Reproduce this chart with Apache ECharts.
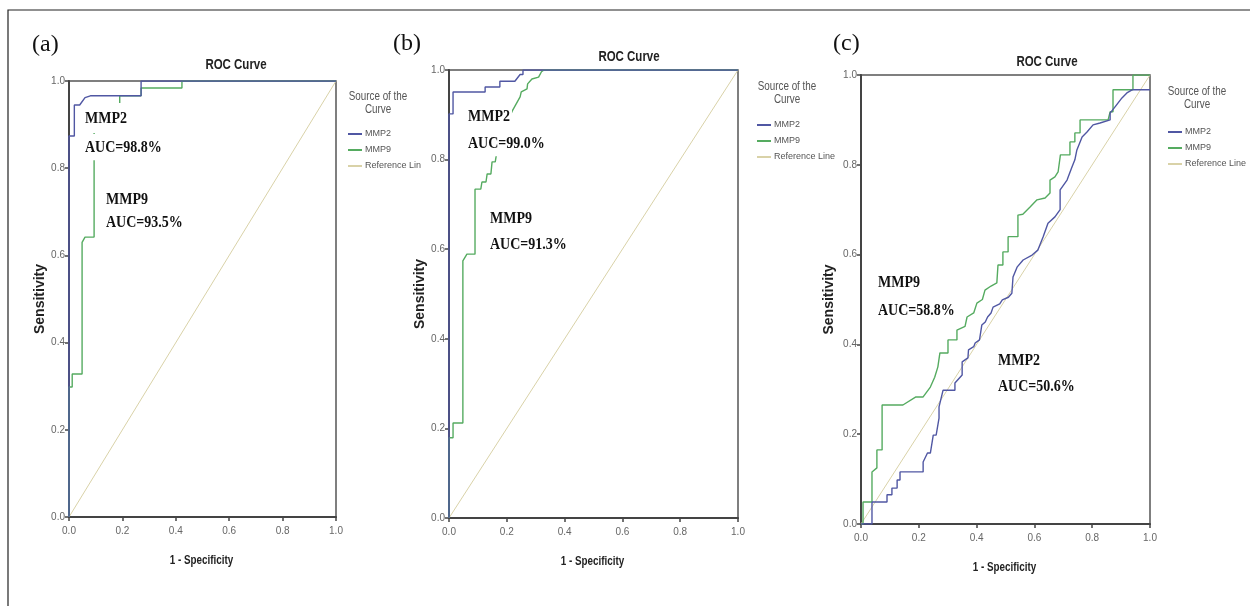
<!DOCTYPE html>
<html>
<head>
<meta charset="utf-8">
<title>ROC Curve</title>
<script src="https://cdn.jsdelivr.net/npm/echarts/dist/echarts.min.js"></script>
<style>
    html, body { margin: 0; padding: 0; background: #fff; }
    #main { width: 1250px; height: 606px; }
</style>
</head>
<body>
<div id="main"></div>
<script>
// axis ticks shared by all three panels
var tickValues = [0, 0.2, 0.4, 0.6, 0.8, 1.0];
var seriesNames = ['MMP2', 'MMP9', 'Reference Line'];
var referenceLine = [[0, 0], [1, 1]];

// (a) [1 - specificity, sensitivity]
var mmp2A = [[0, 0], [0, 0.874], [0.02, 0.874], [0.02, 0.945], [0.04, 0.945], [0.06, 0.962],
    [0.08, 0.966], [0.27, 0.966], [0.27, 1], [1, 1]];
var mmp9A = [[0, 0], [0, 0.298], [0.012, 0.298], [0.012, 0.328], [0.049, 0.328], [0.049, 0.63],
    [0.06, 0.642], [0.094, 0.642], [0.094, 0.83], [0.094, 0.9], [0.15, 0.9], [0.15, 0.94],
    [0.19, 0.94], [0.19, 0.966], [0.27, 0.966], [0.27, 0.984], [0.423, 0.984], [0.423, 1], [1, 1]];

// (b)
var mmp2B = [[0, 0], [0, 0.902], [0.014, 0.902], [0.014, 0.951], [0.125, 0.951], [0.125, 0.962],
    [0.176, 0.962], [0.176, 0.975], [0.228, 0.975], [0.246, 0.99], [0.256, 0.99], [0.256, 1], [1, 1]];
var mmp9B = [[0, 0], [0, 0.179], [0.014, 0.179], [0.014, 0.212], [0.048, 0.212], [0.048, 0.574],
    [0.062, 0.589], [0.09, 0.589], [0.09, 0.734], [0.11, 0.734], [0.114, 0.75], [0.128, 0.75],
    [0.132, 0.768], [0.145, 0.768], [0.149, 0.795], [0.16, 0.795], [0.166, 0.819], [0.18, 0.85],
    [0.2, 0.88], [0.22, 0.91], [0.246, 0.94], [0.25, 0.951], [0.27, 0.958], [0.272, 0.969],
    [0.287, 0.98], [0.31, 0.984], [0.32, 0.996], [0.329, 1], [1, 1]];

// (c)
var mmp2C = [[0, 0], [0.038, 0], [0.038, 0.049], [0.09, 0.049], [0.09, 0.065], [0.107, 0.065],
    [0.107, 0.08], [0.125, 0.08], [0.125, 0.098], [0.135, 0.098], [0.135, 0.116], [0.215, 0.116],
    [0.215, 0.138], [0.23, 0.158], [0.24, 0.158], [0.25, 0.198], [0.26, 0.198], [0.27, 0.236],
    [0.27, 0.261], [0.284, 0.298], [0.325, 0.298], [0.325, 0.314], [0.35, 0.332], [0.35, 0.361],
    [0.37, 0.37], [0.372, 0.388], [0.39, 0.395], [0.395, 0.403], [0.41, 0.41], [0.418, 0.443],
    [0.43, 0.45], [0.438, 0.461], [0.45, 0.47], [0.457, 0.483], [0.48, 0.49], [0.489, 0.499],
    [0.51, 0.505], [0.522, 0.514], [0.526, 0.55], [0.54, 0.572], [0.561, 0.588], [0.592, 0.599],
    [0.612, 0.61], [0.63, 0.639], [0.647, 0.67], [0.671, 0.684], [0.689, 0.7], [0.689, 0.744],
    [0.713, 0.766], [0.73, 0.795], [0.74, 0.811], [0.747, 0.833], [0.765, 0.862], [0.782, 0.873],
    [0.803, 0.889], [0.827, 0.893], [0.862, 0.9], [0.862, 0.915], [0.879, 0.929], [0.903, 0.949],
    [0.92, 0.96], [0.938, 0.967], [1, 0.967]];
var mmp9C = [[0, 0], [0.007, 0], [0.007, 0.049], [0.038, 0.049], [0.038, 0.116], [0.055, 0.125],
    [0.055, 0.165], [0.073, 0.165], [0.073, 0.265], [0.145, 0.265], [0.19, 0.283], [0.215, 0.283],
    [0.24, 0.305], [0.255, 0.327], [0.266, 0.35], [0.273, 0.381], [0.301, 0.381], [0.301, 0.41],
    [0.332, 0.41], [0.332, 0.432], [0.36, 0.44], [0.367, 0.461], [0.39, 0.47], [0.401, 0.492],
    [0.42, 0.5], [0.429, 0.521], [0.45, 0.53], [0.47, 0.537], [0.474, 0.577], [0.491, 0.577],
    [0.491, 0.606], [0.509, 0.606], [0.509, 0.64], [0.543, 0.64], [0.543, 0.688], [0.56, 0.69],
    [0.585, 0.706], [0.609, 0.722], [0.637, 0.726], [0.654, 0.737], [0.654, 0.766], [0.671, 0.773],
    [0.682, 0.784], [0.69, 0.822], [0.723, 0.822], [0.723, 0.851], [0.74, 0.851], [0.74, 0.871],
    [0.758, 0.871], [0.758, 0.9], [0.855, 0.9], [0.862, 0.918], [0.872, 0.918], [0.872, 0.967],
    [0.941, 0.967], [0.941, 1], [1, 1]];

var aucLabels = [
    ['MMP2', 'AUC=98.8%', 'MMP9', 'AUC=93.5%'],
    ['MMP2', 'AUC=99.0%', 'MMP9', 'AUC=91.3%'],
    ['MMP9', 'AUC=58.8%', 'MMP2', 'AUC=50.6%']
];

var SANS = '"Liberation Sans", Arial, sans-serif';
var SERIF = '"Liberation Serif", "Times New Roman", serif';
var colors = ['#5057a3', '#55ab60', '#d9d2a8'];

// panel boxes in pixels
var panels = [
    {left: 69, top: 81, width: 267, height: 436, nameGap: 17, legendLeft: 343, legendTop: 123,
        head: [378, 97], title: [236, 65], tag: [32, 45]},
    {left: 449, top: 70, width: 289, height: 448, nameGap: 20, legendLeft: 752, legendTop: 114,
        head: [787, 87], title: [629, 57], tag: [393, 44]},
    {left: 861, top: 75, width: 289, height: 449, nameGap: 25, legendLeft: 1163, legendTop: 121,
        head: [1197, 92], title: [1047, 62], tag: [833, 44]}
];
var curves = [[mmp2A, mmp9A], [mmp2B, mmp9B], [mmp2C, mmp9C]];
// where the AUC notes sit: [x, y of first line, y of second line]
var notePos = [
    [[83, 118, 147], [104, 199, 222]],
    [[466, 116, 143], [488, 218, 244]],
    [[876, 282, 310], [996, 360, 386]]
];

var chart = echarts.init(document.getElementById('main'));

function tickLabel(v) {
    return v.toFixed(1);
}

/**
 * 窄字体效果：横向压缩的文字
 */
function narrowText(x, y, text, font, fill) {
    return {
        type: 'text', x: x, y: y, scaleX: 0.82,
        style: {text: text, align: 'center', verticalAlign: 'middle', font: font, fill: fill}
    };
}

var grids = [], xAxes = [], yAxes = [], series = [], legends = [];
var graphics = [
    {
        type: 'rect',
        shape: {x: 8, y: 10, width: 1300, height: 700},
        style: {fill: 'none', stroke: '#222', lineWidth: 1.2},
        silent: true
    }
];

panels.forEach(function (p, i) {
    grids.push({
        left: p.left, top: p.top, width: p.width, height: p.height,
        show: true, borderColor: '#555', borderWidth: 1.5, backgroundColor: '#fff'
    });
    var axisCommon = {
        gridIndex: i, type: 'value', min: tickValues[0], max: tickValues[tickValues.length - 1],
        interval: 0.2,
        splitLine: {show: false},
        axisLine: {show: true, onZero: false, lineStyle: {color: '#444', width: 2}},
        axisTick: {show: true, inside: false, length: 4, lineStyle: {color: '#444', width: 1.5}},
        axisLabel: {formatter: tickLabel, color: '#666', fontSize: 10, fontFamily: SANS},
        nameLocation: 'middle',
        nameTextStyle: {color: '#222', fontWeight: 'bold', fontFamily: SANS}
    };
    xAxes.push(echarts.util.merge({
        axisLabel: {margin: 9}
    }, axisCommon));
    yAxes.push(echarts.util.merge({
        name: 'Sensitivity', nameGap: p.nameGap, nameRotate: 90,
        axisLabel: {margin: 4},
        nameTextStyle: {fontSize: 14}
    }, axisCommon));

    var data = [curves[i][0], curves[i][1], referenceLine];
    data.forEach(function (d, k) {
        series.push({
            name: seriesNames[k], type: 'line', xAxisIndex: i, yAxisIndex: i,
            data: d, showSymbol: false, z: 3 - k,
            color: colors[k],
            lineStyle: {color: colors[k], width: k === 2 ? 1 : 1.4}
        });
    });

    legends.push({
        orient: 'vertical', left: p.legendLeft, top: p.legendTop,
        data: seriesNames, icon: 'rect', itemWidth: 14, itemHeight: 2, itemGap: 4,
        selectedMode: false,
        formatter: i === 0 ? function (n) { return n === 'Reference Line' ? 'Reference Lin' : n; } : '{name}',
        textStyle: {fontSize: 9, lineHeight: 12, color: '#555', fontFamily: SANS, padding: [0, 0, 0, -2]}
    });

    // legend heading, panel title, x axis title and panel tag
    graphics.push(narrowText(p.head[0], p.head[1], 'Source of the', '12px ' + SANS, '#555'));
    graphics.push(narrowText(p.head[0], p.head[1] + 13, 'Curve', '12px ' + SANS, '#555'));
    graphics.push(narrowText(p.title[0], p.title[1], 'ROC Curve', 'bold 14px ' + SANS, '#222'));
    graphics.push(narrowText(p.left + p.width / 2 - 1, p.top + p.height + 44, '1 - Specificity',
        'bold 12px ' + SANS, '#222'));
    graphics.push({type: 'text', x: p.tag[0], y: p.tag[1], style: {
        text: '(' + 'abc'.charAt(i) + ')', align: 'left', verticalAlign: 'middle',
        font: '24px ' + SERIF, fill: '#111'}});

    // AUC notes, on white so they mask the curve beneath
    notePos[i].forEach(function (pos, j) {
        [1, 2].forEach(function (line) {
            graphics.push({
                type: 'text', x: pos[0], y: pos[line], scaleY: 1.25, z: 100,
                style: {
                    text: aucLabels[i][j * 2 + line - 1], align: 'left', verticalAlign: 'middle',
                    font: 'bold 14px ' + SERIF, fill: '#111',
                    backgroundColor: '#fff',
                    padding: line === 1 ? [3, 2, 7, 2] : [6, 2, 1, 2]
                }
            });
        });
    });
});

var option = {
    animation: false,
    backgroundColor: '#fff',
    grid: grids,
    xAxis: xAxes,
    yAxis: yAxes,
    legend: legends,
    series: series,
    graphic: graphics
};
chart.setOption(option);
</script>
</body>
</html>
